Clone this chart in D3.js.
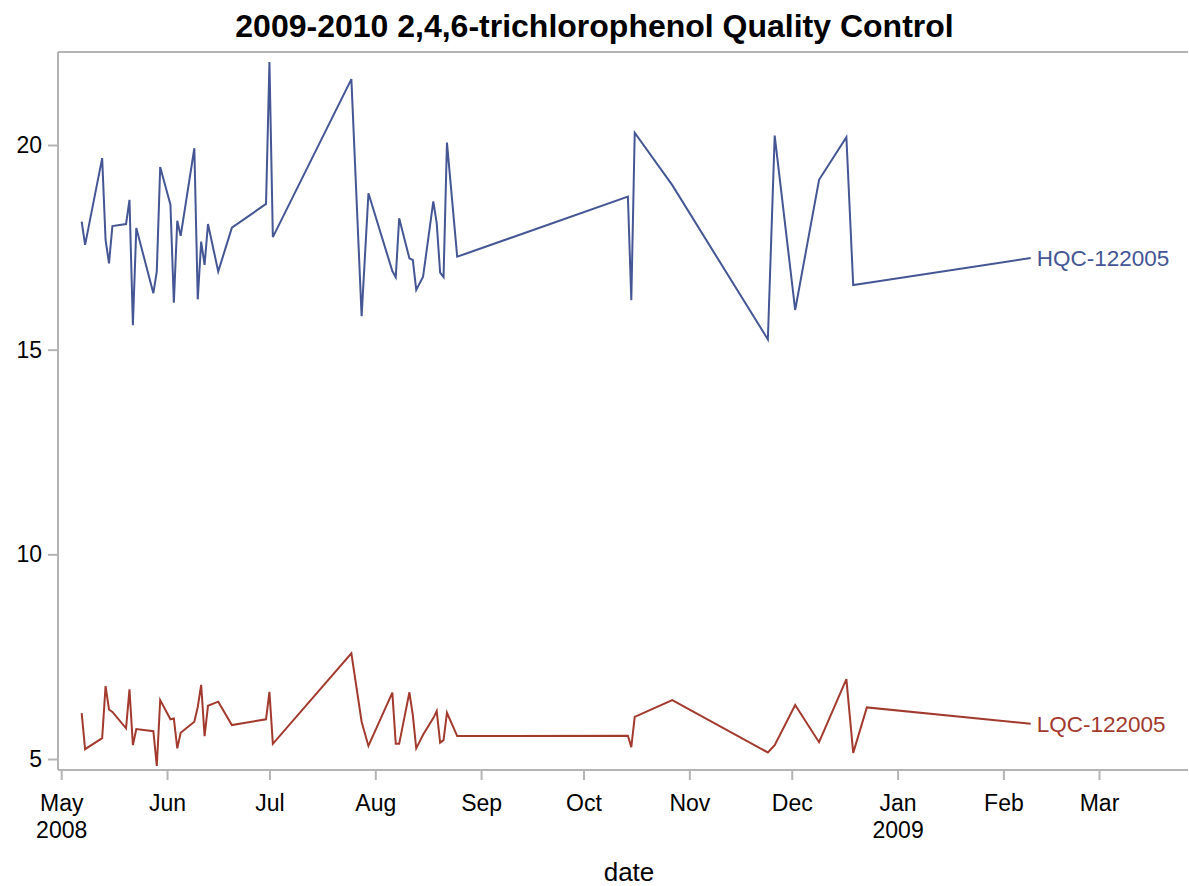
<!DOCTYPE html>
<html>
<head>
<meta charset="utf-8">
<script src="https://cdn.jsdelivr.net/npm/d3@7"></script>
<style>
  body { margin: 0; background: #fff; }
  svg { font-family: "Liberation Sans", Arial, sans-serif; }
</style>
</head>
<body>
<svg id="chart" width="1189" height="886"></svg>
<script>
const dates = ['2008-05-07','2008-05-08','2008-05-13','2008-05-14','2008-05-15','2008-05-16','2008-05-20','2008-05-21','2008-05-22','2008-05-23',
  '2008-05-28','2008-05-29','2008-05-30','2008-06-02','2008-06-03','2008-06-04','2008-06-05','2008-06-09','2008-06-10','2008-06-11',
  '2008-06-12','2008-06-13','2008-06-16','2008-06-20','2008-06-30','2008-07-01','2008-07-02','2008-07-25','2008-07-28','2008-07-30',
  '2008-08-06','2008-08-07','2008-08-08','2008-08-11','2008-08-12','2008-08-13','2008-08-15','2008-08-18','2008-08-19','2008-08-20',
  '2008-08-21','2008-08-22','2008-08-25','2008-10-14','2008-10-15','2008-10-16','2008-10-27','2008-11-24','2008-11-26','2008-12-02',
  '2008-12-09','2008-12-17','2008-12-19','2008-12-23','2009-02-09']

const hqc = [18.13,17.56,19.68,17.68,17.11,18.02,18.07,18.66,15.60,17.97,
  16.38,16.91,19.46,18.54,16.15,18.15,17.78,19.92,16.23,17.64,
  17.07,18.07,16.91,17.98,18.56,22.03,17.75,21.61,15.82,18.82,
  16.92,16.77,18.21,17.23,17.19,16.46,16.78,18.62,18.09,16.88,
  16.77,20.06,17.27,18.74,16.21,20.30,19.02,15.25,20.23,15.97,
  19.15,20.19,16.58,16.63,17.24]

const lqc = [6.12,5.24,5.51,6.78,6.21,6.15,5.75,6.70,5.34,5.73,
  5.68,4.83,6.44,5.97,5.99,5.26,5.64,5.91,6.27,6.81,
  5.56,6.30,6.40,5.83,5.97,6.64,5.37,7.58,5.91,5.32,
  6.62,5.37,5.37,6.63,6.07,5.26,5.59,6.00,6.17,5.40,
  5.46,6.13,5.56,5.57,5.29,6.03,6.44,5.16,5.34,6.32,
  5.41,6.95,5.15,6.26,5.86]

const seriesNames = ['HQC-122005', 'LQC-122005']
const seriesColors = ['#445694', '#a23a2e']
const yTicks = [5, 10, 15, 20]
const monthTicks = ['2008-05-01','2008-06-01','2008-07-01','2008-08-01','2008-09-01','2008-10-01',
  '2008-11-01','2008-12-01','2009-01-01','2009-02-01','2009-03-01']

const parse = d3.utcParse('%Y-%m-%d')
const plotLeft = 58, plotRight = 1188, plotTop = 52, plotBottom = 770
const tickFont = 23

const x = d3.scaleUtc().domain([parse('2008-05-01'), parse('2009-03-01')]).range([61.2, 1099])
const y = d3.scaleLinear().domain([5, 20]).range([759, 145])

const svg = d3.select('#chart')

svg.append('text').text('2009-2010 2,4,6-trichlorophenol Quality Control')
  .attr('x', 594.5).attr('y', 37).attr('text-anchor', 'middle')
  .attr('font-size', 32).attr('font-weight', 'bold').attr('fill', '#000')

// frame
const frame = svg.append('g').attr('stroke', '#b4b4b4').attr('stroke-width', 2).attr('fill', 'none')
frame.append('line').attr('x1', plotLeft).attr('x2', plotLeft).attr('y1', plotTop).attr('y2', plotBottom)
frame.append('line').attr('x1', plotLeft).attr('x2', plotRight).attr('y1', plotTop).attr('y2', plotTop)
frame.append('line').attr('x1', plotLeft).attr('x2', plotRight).attr('y1', plotBottom).attr('y2', plotBottom)

// y axis
const yAxis = svg.append('g').attr('transform', `translate(${plotLeft},0)`)
  .call(d3.axisLeft(y).tickValues(yTicks).tickSize(10).tickPadding(6))
yAxis.select('.domain').remove()
yAxis.attr('font-family', null)
yAxis.selectAll('line').attr('stroke', '#b4b4b4').attr('stroke-width', 2)
yAxis.selectAll('text').attr('font-size', tickFont).attr('fill', '#000')

// x axis
const fmt = d3.utcFormat('%b')
const xAxis = svg.append('g').attr('transform', `translate(0,${plotBottom})`)
  .call(d3.axisBottom(x).tickValues(monthTicks.map(parse)).tickSize(10).tickPadding(15).tickFormat(fmt))
xAxis.select('.domain').remove()
xAxis.attr('font-family', null)
xAxis.selectAll('line').attr('stroke', '#b4b4b4').attr('stroke-width', 2)
xAxis.selectAll('text').attr('font-size', tickFont).attr('fill', '#000')
xAxis.selectAll('.tick').filter(d => d.getUTCMonth() === 0 || +d === +parse('2008-05-01'))
  .append('text').text(d => d.getUTCFullYear())
  .attr('y', 68).attr('fill', '#000').attr('font-size', tickFont).attr('text-anchor', 'middle')

svg.append('text').text('date').attr('x', 629).attr('y', 881)
  .attr('text-anchor', 'middle').attr('font-size', 26).attr('fill', '#000')

// lines
const line = d3.line().x((d, i) => x(parse(dates[i]))).y(d => y(d))
;[hqc, lqc].forEach((vals, k) => {
  svg.append('path').datum(vals).attr('d', line)
    .attr('fill', 'none').attr('stroke', seriesColors[k]).attr('stroke-width', 2)
  const last = vals.length - 1
  svg.append('text').text(seriesNames[k])
    .attr('x', x(parse(dates[last])) + 6).attr('y', y(vals[last]))
    .attr('dy', '0.35em').attr('font-size', 22.5).attr('fill', seriesColors[k])
})
</script>
</body>
</html>
